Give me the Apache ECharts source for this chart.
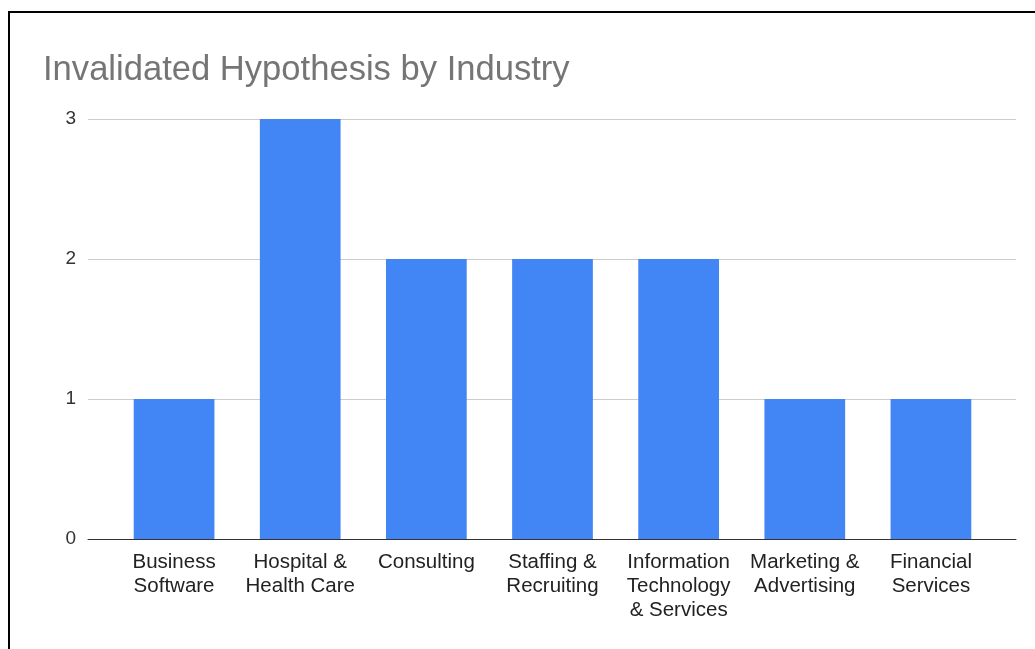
<!DOCTYPE html>
<html><head><meta charset="utf-8">
<script src="https://cdn.jsdelivr.net/npm/echarts@6/dist/echarts.min.js"></script>
<style>
html,body{margin:0;padding:0;background:#fff;overflow:hidden;}
#frame{position:absolute;left:8px;top:11px;width:1100px;height:700px;border-left:2px solid #000;border-top:2px solid #000;}
#chart{position:absolute;left:0;top:0;width:1035px;height:649px;}
</style></head>
<body>
<div id="frame"></div>
<div id="chart"></div>
<script>
const title = "Invalidated Hypothesis by Industry";
const categories = ["Business\nSoftware","Hospital &\nHealth Care","Consulting","Staffing &\nRecruiting","Information\nTechnology\n& Services","Marketing &\nAdvertising","Financial\nServices"];
const values = [1,3,2,2,2,1,1];
const yTicks = [0,1,2,3];

const chart = echarts.init(document.getElementById('chart'), null, {renderer:'canvas'});
const font = "Arial, 'Liberation Sans', sans-serif";
chart.setOption({
  backgroundColor: 'transparent',
  animation: false,
  title: {
    text: title, left: 38, top: 48,
    textStyle: {fontFamily: font, fontSize: 34.6, fontWeight: 'normal', color: '#757575'}
  },
  grid: [
    {left: 88, right: 19, top: 119, bottom: 110},
    {left: 111, right: 41, top: 119, bottom: 110}
  ],
  xAxis: [
    {type: 'value', gridIndex: 0, min: 0, max: 1, show: true,
     axisLine: {show: true, onZero: false, lineStyle: {color: '#333', width: 1}},
     axisTick: {show: false}, axisLabel: {show: false}, splitLine: {show: false}},
    {type: 'category', gridIndex: 1, data: categories,
     axisLine: {show: false}, axisTick: {show: false},
     axisLabel: {interval: 0, margin: 11, fontFamily: font, fontSize: 20.5, color: '#222', lineHeight: 24, verticalAlign: 'top'}}
  ],
  yAxis: [
    {type: 'value', gridIndex: 0, min: yTicks[0], max: yTicks[yTicks.length-1], interval: 1,
     axisLine: {show: false}, axisTick: {show: false},
     axisLabel: {margin: 12, fontFamily: font, fontSize: 19, color: '#333'},
     splitLine: {show: true, lineStyle: {color: '#cccccc', width: 1}}},
    {type: 'value', gridIndex: 1, min: yTicks[0], max: yTicks[yTicks.length-1], interval: 1, show: false,
     splitLine: {show: false}}
  ],
  series: [{
    type: 'bar', xAxisIndex: 1, yAxisIndex: 1, data: values,
    barCategoryGap: '36%', itemStyle: {color: '#4285F4'}, z: 3
  }]
});
</script>
</body></html>
